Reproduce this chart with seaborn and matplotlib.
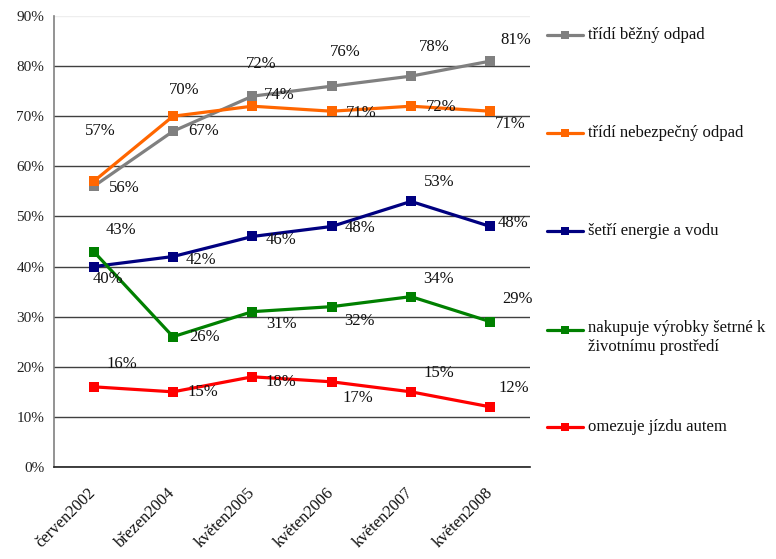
import matplotlib
matplotlib.use("Agg")
import matplotlib.pyplot as plt
from matplotlib.lines import Line2D
import seaborn as sns
import pandas as pd
import numpy as np

categories = ["červen2002", "březen2004", "květen2005", "květen2006", "květen2007", "květen2008"]
series_names = [
    "třídí běžný odpad",
    "třídí nebezpečný odpad",
    "šetří energie a vodu",
    "nakupuje výrobky šetrné k\nživotnímu prostředí",
    "omezuje jízdu autem",
]
bezny = [56, 67, 74, 76, 78, 81]
nebezpecny = [57, 70, 72, 71, 72, 71]
energie = [40, 42, 46, 48, 53, 48]
vyrobky = [43, 26, 31, 32, 34, 29]
auto = [16, 15, 18, 17, 15, 12]
y_ticks = [0, 10, 20, 30, 40, 50, 60, 70, 80, 90]

colors = ["#808080", "#FF6600", "#000080", "#008000", "#FF0000"]

# label offsets in pixels (styling only)
offsets = [
    [(31, -2), (31, 0), (27, 1), (14, 34), (23, 29), (25, 21)],
    [(7, 50), (11, 26), (9, 42), (30, -2), (30, -1), (20, -13)],
    [(14, -12), (28, -3), (29, -4), (28, -2), (28, 19), (23, 3)],
    [(27, 22), (32, 0), (29, -12), (28, -14), (28, 18), (27, 23)],
    [(28, 23), (30, 0), (29, -5), (26, -16), (28, 19), (23, 19)],
]

all_vals = [bezny, nebezpecny, energie, vyrobky, auto]
rows = []
for name, vals in zip(series_names, all_vals):
    for c, v in zip(categories, vals):
        rows.append({"obdobi": c, "hodnota": v, "serie": name})
df = pd.DataFrame(rows)

sns.set_style("white")
plt.rcParams["font.family"] = ["Liberation Serif", "DejaVu Serif"]

fig = plt.figure(figsize=(7.76, 5.59), dpi=100)
W, H = 776, 559
ax = fig.add_axes([54 / W, 1 - 467 / H, (530 - 54) / W, (467 - 16) / H])

sns.lineplot(data=df, x="obdobi", y="hodnota", hue="serie", hue_order=series_names,
             palette=colors, marker="s", markersize=7.5, markeredgewidth=0,
             linewidth=2.3, dashes=False, sort=False, ax=ax, legend=False)

ax.set_xlim(-0.5, len(categories) - 0.5)
ax.set_ylim(0, 90)
ax.set_yticks(y_ticks)
ax.set_yticklabels([f"{t}%" for t in y_ticks], fontsize=11, color="#222222")
ax.set_xticks(range(len(categories)))
ax.set_xticklabels(categories, fontsize=12, rotation=45, ha="right", va="center",
                   rotation_mode="anchor", color="#111111")
ax.set_xticks(np.arange(-0.5, len(categories), 1), minor=True)
ax.tick_params(axis="x", which="major", length=0, pad=17)
ax.tick_params(axis="x", which="minor", length=5, width=1, color="#202020", direction="out")
ax.tick_params(axis="y", length=4, width=1, color="#808080", direction="out", pad=3)
ax.set_xlabel("")
ax.set_ylabel("")

ax.yaxis.grid(True, color="#404040", linewidth=1)
gl = ax.get_ygridlines()
gl[-1].set_color("#eeeeee")
ax.set_axisbelow(True)
for s in ["top", "right"]:
    ax.spines[s].set_visible(False)
ax.spines["left"].set_color("#808080")
ax.spines["left"].set_linewidth(1.2)
ax.spines["bottom"].set_color("#202020")
ax.spines["bottom"].set_linewidth(1.2)

for vals, offs in zip(all_vals, offsets):
    for i, (v, o) in enumerate(zip(vals, offs)):
        ax.annotate(f"{v}%", xy=(i, v), xytext=o, textcoords="offset pixels",
                    ha="center", va="center", fontsize=12, color="#111111")

# manual legend
leg_y = [35, 133, 231, 330, 427]
for name, col, y in zip(series_names, colors, leg_y):
    fy = 1 - y / H
    fig.add_artist(Line2D([547 / W, 583 / W], [fy, fy], color=col, linewidth=2.3,
                          transform=fig.transFigure))
    fig.add_artist(Line2D([565 / W], [fy], color=col, marker="s", markersize=5.5,
                          markeredgewidth=0, transform=fig.transFigure))
    if "\n" in name:
        fig.text(588 / W, 1 - (y - 10) / H, name, ha="left", va="top", fontsize=12,
                 linespacing=1.25, color="#111111")
    else:
        fig.text(588 / W, fy, name, ha="left", va="center", fontsize=12, color="#111111")

fig.savefig("out.png", dpi=100, facecolor="white")
